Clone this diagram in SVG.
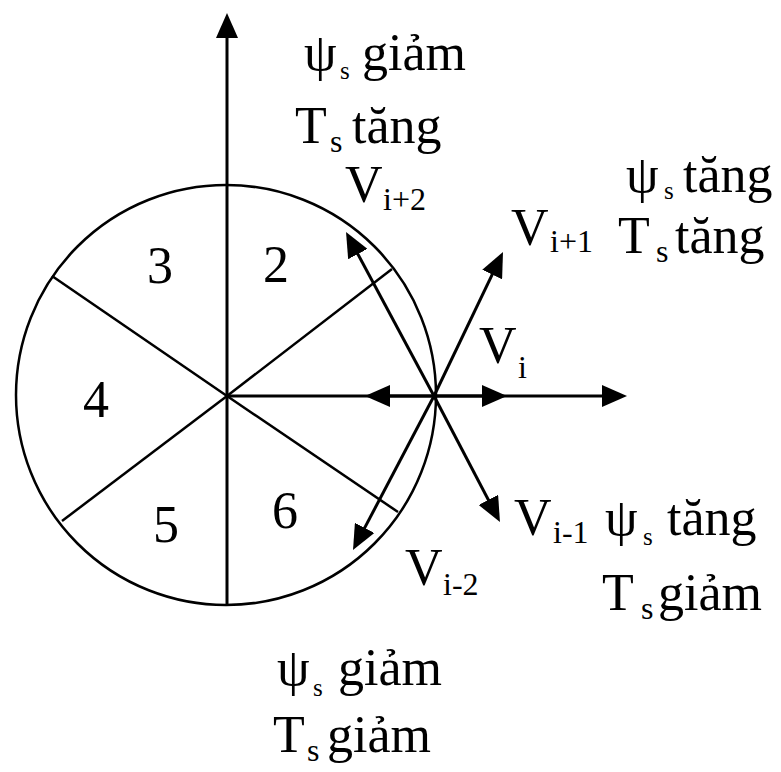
<svg xmlns="http://www.w3.org/2000/svg" width="781" height="772" viewBox="0 0 781 772">
<style>
.t{font-family:"Liberation Serif","Times New Roman",serif;font-size:52px;fill:#000}
.sub{font-size:32px}
.ps{font-size:52px}
.ss{font-size:25px}
.ts{font-size:32px}
.thin{stroke:#000;stroke-width:2.5;fill:none}
.ax{stroke:#000;stroke-width:3;fill:none}
</style>
<defs>
<marker id="ah" viewBox="0 0 25 22" markerWidth="25" markerHeight="22" refX="13" refY="11" orient="auto" markerUnits="userSpaceOnUse">
<path d="M0,0 L25,11 L0,22 z" fill="#000"/>
</marker>
</defs>
<g id="circle">
<circle class="thin" cx="226" cy="395" r="210"/>
<line class="thin" x1="227" y1="396" x2="392" y2="269"/>
<line class="thin" x1="227" y1="396" x2="52" y2="276"/>
<line class="thin" x1="227" y1="396" x2="62" y2="521"/>
<line class="thin" x1="227" y1="396" x2="398" y2="512"/>
</g>
<g id="connectors">
<line class="ax" x1="227" y1="605" x2="227" y2="25" marker-end="url(#ah)"/>
<line class="ax" x1="227" y1="396" x2="615" y2="396" marker-end="url(#ah)"/>
<line class="ax" x1="434" y1="396" x2="377" y2="396" marker-end="url(#ah)"/>
<line class="ax" x1="434" y1="396" x2="495" y2="396" marker-end="url(#ah)"/>
<line class="ax" x1="434" y1="396" x2="497.8" y2="262.8" marker-end="url(#ah)"/>
<line class="ax" x1="434" y1="396" x2="351.7" y2="242.6" marker-end="url(#ah)"/>
<line class="ax" x1="434" y1="396" x2="494.4" y2="511.4" marker-end="url(#ah)"/>
<line class="ax" x1="434" y1="396" x2="358.6" y2="539.4" marker-end="url(#ah)"/>
</g>
<g id="sectors" class="t">
<text x="147" y="283">3</text>
<text x="263" y="282">2</text>
<text x="83" y="417">4</text>
<text x="153" y="542">5</text>
<text x="272" y="528">6</text>
</g>
<g id="vectors-labels" class="t">
<text x="345" y="202">V</text><text class="sub" x="383" y="210">i+2</text>
<text x="511" y="245">V</text><text class="sub" x="550" y="252">i+1</text>
<text x="479" y="363">V</text><text class="sub" x="518" y="378">i</text>
<text x="514" y="535">V</text><text class="sub" x="553" y="543">i-1</text>
<text x="405" y="585">V</text><text class="sub" x="443" y="595">i-2</text>
</g>
<g id="label-top" class="t">
<text class="ps" x="304" y="70">ψ</text><text class="ss" x="340" y="79">s</text><text x="362" y="70">giảm</text>
<text x="295" y="143">T</text><text class="ts" x="330" y="152">s</text><text x="352" y="143">tăng</text>
</g>
<g id="label-right-top" class="t">
<text class="ps" x="626" y="192">ψ</text><text class="ss" x="664" y="199">s</text><text x="683" y="192">tăng</text>
<text x="618" y="253">T</text><text class="ts" x="656" y="262">s</text><text x="675" y="253">tăng</text>
</g>
<g id="label-right-bottom" class="t">
<text class="ps" x="605" y="535">ψ</text><text class="ss" x="643" y="545">s</text><text x="667" y="535">tăng</text>
<text x="602" y="610">T</text><text class="ts" x="641" y="619">s</text><text x="658" y="610">giảm</text>
</g>
<g id="label-bottom" class="t">
<text class="ps" x="277" y="685">ψ</text><text class="ss" x="313" y="696">s</text><text x="338" y="685">giảm</text>
<text x="273" y="752">T</text><text class="ts" x="307" y="761">s</text><text x="327" y="752">giảm</text>
</g>
</svg>
